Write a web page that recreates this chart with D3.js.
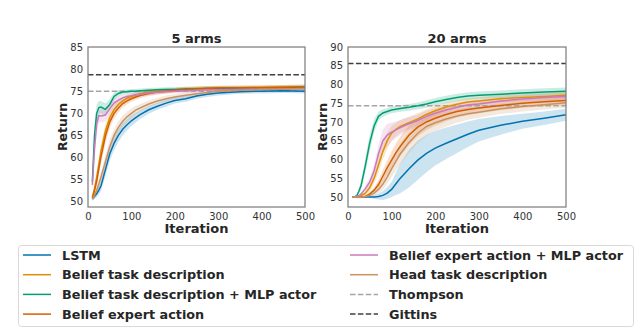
<!DOCTYPE html>
<html>
<head>
<meta charset="utf-8">
<script src="https://cdn.jsdelivr.net/npm/d3@7"></script>
<style>
  body { margin: 0; background: #fff; }
  text { font-family: "DejaVu Sans", sans-serif; }
</style>
</head>
<body>
<svg width="640" height="328"></svg>
<script>
var iters = [10,15,20,25,30,40,50,60,70,80,90,100,110,120,140,160,180,200,225,250,275,300,350,400,450,500];

var seriesNames = ["LSTM", "Belief task description", "Belief task description + MLP actor",
  "Belief expert action", "Belief expert action + MLP actor", "Head task description"];
var seriesColors = ["#0173b2", "#de8f05", "#029e73", "#d55e00", "#cc78bc", "#ca9161"];

// 5 arms (mean)
var lstm5     = [50.6,51.2,51.8,52.6,53.6,57.2,60.8,63.2,65.0,66.4,67.4,68.3,69.0,69.7,70.8,71.6,72.3,72.9,73.3,73.9,74.3,74.6,74.9,75.0,75.1,75.0];
var task5     = [51.0,53.0,55.5,58.5,61.5,66.0,69.0,70.8,72.0,72.8,73.4,73.8,74.1,74.4,74.8,75.0,75.2,75.3,75.5,75.6,75.7,75.8,75.8,75.9,75.9,76.0];
var taskMlp5  = [54.5,65.0,70.0,71.3,71.4,70.9,72.0,73.8,74.5,74.8,74.9,75.0,75.0,75.1,75.2,75.3,75.4,75.4,75.5,75.5,75.6,75.6,75.7,75.7,75.8,75.8];
var expert5   = [50.8,52.5,54.6,57.5,60.2,64.8,68.0,70.0,71.2,72.2,72.8,73.3,73.7,74.0,74.5,74.8,75.0,75.2,75.4,75.5,75.6,75.7,75.8,75.8,75.9,76.0];
var expMlp5   = [53.8,62.0,67.5,69.5,69.4,69.6,71.0,72.3,73.0,73.5,73.8,74.0,74.2,74.3,74.6,74.8,74.9,75.0,75.1,75.2,75.3,75.3,75.4,75.5,75.5,75.6];
var head5     = [50.6,51.5,52.6,54.0,55.6,59.0,62.4,65.0,66.8,68.2,69.2,70.0,70.7,71.2,72.1,72.8,73.3,73.7,74.1,74.4,74.7,75.0,75.2,75.4,75.5,75.6];
// 5 arms (band half-width)
var lstm5Sd    = [0.4,0.6,0.8,1.0,1.2,1.5,1.6,1.6,1.5,1.4,1.3,1.2,1.1,1.0,0.9,0.8,0.8,0.7,0.7,0.6,0.6,0.6,0.5,0.5,0.5,0.5];
var task5Sd    = [0.4,0.8,1.2,1.5,1.6,1.6,1.4,1.2,1.0,0.9,0.8,0.7,0.7,0.6,0.6,0.6,0.5,0.5,0.5,0.5,0.5,0.5,0.5,0.5,0.5,0.5];
var taskMlp5Sd = [1.5,2.5,2.0,1.5,1.4,1.4,1.2,0.9,0.7,0.6,0.5,0.5,0.5,0.5,0.5,0.5,0.5,0.5,0.5,0.5,0.5,0.5,0.5,0.5,0.5,0.5];
var expert5Sd  = [0.4,0.8,1.2,1.5,1.6,1.6,1.4,1.2,1.0,0.9,0.8,0.7,0.7,0.6,0.6,0.6,0.5,0.5,0.5,0.5,0.5,0.5,0.5,0.5,0.5,0.5];
var expMlp5Sd  = [1.0,2.0,1.8,1.5,1.5,1.4,1.2,1.0,0.8,0.7,0.6,0.6,0.5,0.5,0.5,0.5,0.5,0.5,0.5,0.5,0.5,0.5,0.5,0.5,0.5,0.5];
var head5Sd    = [0.4,0.6,0.8,1.0,1.2,1.5,1.6,1.5,1.4,1.3,1.2,1.1,1.0,0.9,0.8,0.7,0.7,0.6,0.6,0.6,0.5,0.5,0.5,0.5,0.5,0.5];

// 20 arms (mean)
var lstm20    = [50.0,50.0,50.0,50.0,50.0,50.0,50.0,50.0,50.1,50.4,51.0,52.0,53.5,55.0,57.5,59.8,61.6,63.0,64.3,65.5,66.7,67.8,69.1,70.2,71.0,71.9];
var task20    = [50.0,50.0,50.0,50.1,50.3,51.0,52.5,55.0,58.5,62.1,65.0,67.0,68.0,68.8,69.8,70.8,72.0,73.0,74.0,74.7,75.3,75.6,76.2,76.5,76.8,77.1];
var taskMlp20 = [50.0,50.0,50.3,51.5,53.0,58.5,64.5,69.0,71.5,72.4,72.8,73.2,73.4,73.6,73.9,74.3,74.8,75.4,76.0,76.5,76.9,77.1,77.4,77.7,78.0,78.2];
var expert20  = [50.0,50.0,50.0,50.0,50.0,50.2,50.8,51.8,53.3,55.5,57.8,59.8,61.8,63.5,66.5,68.6,70.0,71.0,72.0,72.8,73.3,73.7,74.4,75.0,75.4,75.7];
var expMlp20  = [50.0,50.0,50.1,50.3,50.8,52.2,54.0,57.0,61.5,65.0,66.5,67.3,67.9,68.5,69.5,70.4,71.5,72.3,73.2,73.9,74.5,74.8,75.6,76.1,76.5,76.8];
var head20    = [50.0,50.0,50.0,50.0,50.0,50.1,50.4,51.0,52.0,53.4,55.3,57.5,59.5,61.5,64.5,67.0,68.8,69.8,70.8,71.6,72.2,72.6,73.5,74.1,74.6,75.1];
// 20 arms (band half-width)
var lstm20Sd    = [0.1,0.1,0.1,0.1,0.1,0.2,0.3,0.5,0.8,1.2,1.5,2.0,3.0,4.0,5.0,5.2,5.0,4.6,4.2,3.8,3.4,3.0,2.5,2.0,1.8,1.6];
var task20Sd    = [0.0,0.0,0.0,0.1,0.2,0.5,1.0,1.5,2.0,2.2,2.2,2.0,1.8,1.7,1.6,1.5,1.4,1.3,1.2,1.1,1.0,1.0,1.0,1.0,1.0,1.0];
var taskMlp20Sd = [0.1,0.2,0.4,0.8,1.2,2.0,2.2,1.8,1.2,1.0,0.9,0.9,0.9,0.9,0.9,0.9,1.0,1.0,1.0,1.0,1.0,1.0,1.0,1.0,1.0,1.0];
var expert20Sd  = [0.0,0.0,0.0,0.0,0.0,0.2,0.5,0.8,1.2,1.6,2.0,2.3,2.5,2.6,2.6,2.4,2.2,2.0,1.8,1.6,1.5,1.4,1.3,1.2,1.2,1.2];
var expMlp20Sd  = [0.0,0.0,0.1,0.2,0.4,0.8,1.2,1.8,2.5,3.0,3.0,2.5,2.2,2.0,1.8,1.6,1.5,1.4,1.3,1.2,1.2,1.1,1.0,1.0,1.0,1.0];
var head20Sd    = [0.0,0.0,0.0,0.0,0.0,0.1,0.3,0.6,1.0,1.4,1.8,2.2,2.5,2.7,2.8,2.6,2.4,2.2,2.0,1.8,1.6,1.5,1.4,1.3,1.3,1.3];

// baselines
var thompson = [75.0, 74.3];
var gittins  = [78.7, 85.6];

var xTicks = [0,100,200,300,400,500];
var yTicks5 = [50,55,60,65,70,75,80,85];
var yTicks20 = [50,55,60,65,70,75,80,85,90];

var svg = d3.select("svg");
svg.append("rect").attr("width", 640).attr("height", 328).attr("fill", "#fff");

var panels = [
  { title: "5 arms", x0: 88, x1: 305, yDom: [48.8, 85], yTicks: yTicks5,
    means: [lstm5, task5, taskMlp5, expert5, expMlp5, head5],
    sds: [lstm5Sd, task5Sd, taskMlp5Sd, expert5Sd, expMlp5Sd, head5Sd],
    thompson: thompson[0], gittins: gittins[0] },
  { title: "20 arms", x0: 348, x1: 566, yDom: [47.3, 90], yTicks: yTicks20,
    means: [lstm20, task20, taskMlp20, expert20, expMlp20, head20],
    sds: [lstm20Sd, task20Sd, taskMlp20Sd, expert20Sd, expMlp20Sd, head20Sd],
    thompson: thompson[1], gittins: gittins[1] }
];

var plotTop = 47, plotBottom = 207;

panels.forEach(function(p, pi) {
  var x = d3.scaleLinear().domain([0, 500]).range([p.x0, p.x1]);
  var y = d3.scaleLinear().domain(p.yDom).range([plotBottom, plotTop]);
  var clipId = "clip" + pi;
  svg.append("clipPath").attr("id", clipId).append("rect")
    .attr("x", p.x0).attr("y", plotTop).attr("width", p.x1 - p.x0).attr("height", plotBottom - plotTop);

  var g = svg.append("g").attr("clip-path", "url(#" + clipId + ")");

  // bands
  p.means.forEach(function(m, i) {
    var area = d3.area()
      .x(function(d, k) { return x(iters[k]); })
      .y0(function(d, k) { return y(m[k] - p.sds[i][k]); })
      .y1(function(d, k) { return y(m[k] + p.sds[i][k]); });
    g.append("path").datum(m).attr("d", area)
      .attr("fill", seriesColors[i]).attr("fill-opacity", 0.2);
  });

  // baselines
  g.append("line").attr("x1", p.x0).attr("x2", p.x1)
    .attr("y1", y(p.thompson)).attr("y2", y(p.thompson))
    .attr("stroke", "#a5a5a5").attr("stroke-width", 1.5).attr("stroke-dasharray", "5.5,2.4");
  g.append("line").attr("x1", p.x0).attr("x2", p.x1)
    .attr("y1", y(p.gittins)).attr("y2", y(p.gittins))
    .attr("stroke", "#404040").attr("stroke-width", 1.5).attr("stroke-dasharray", "5.5,2.4");

  // mean lines
  p.means.forEach(function(m, i) {
    var line = d3.line()
      .x(function(d, k) { return x(iters[k]); })
      .y(function(d) { return y(d); });
    g.append("path").datum(m).attr("d", line)
      .attr("fill", "none").attr("stroke", seriesColors[i]).attr("stroke-width", 1.5);
  });

  // frame
  svg.append("rect").attr("x", p.x0).attr("y", plotTop)
    .attr("width", p.x1 - p.x0).attr("height", plotBottom - plotTop)
    .attr("fill", "none").attr("stroke", "#7f7f7f").attr("stroke-width", 1.25);

  // axes without tick marks
  var xAxis = svg.append("g").attr("transform", "translate(0," + plotBottom + ")")
    .call(d3.axisBottom(x).tickValues(xTicks).tickSize(0).tickPadding(6));
  var yAxis = svg.append("g").attr("transform", "translate(" + p.x0 + ",0)")
    .call(d3.axisLeft(y).tickValues(p.yTicks).tickSize(0).tickPadding(5));
  [xAxis, yAxis].forEach(function(a) {
    a.select(".domain").remove();
    a.selectAll("text").attr("font-family", "DejaVu Sans").attr("font-size", 10).attr("fill", "#333");
  });

  var cx = (p.x0 + p.x1) / 2;
  svg.append("text").attr("x", cx).attr("y", 43).attr("text-anchor", "middle")
    .attr("font-size", 13).attr("font-weight", "bold").attr("fill", "#262626").text(p.title);
  svg.append("text").attr("x", cx).attr("y", 233).attr("text-anchor", "middle")
    .attr("font-size", 13).attr("font-weight", "bold").attr("fill", "#262626").text("Iteration");
  svg.append("text").attr("transform", "translate(" + (p.x0 - 21) + "," + ((plotTop + plotBottom) / 2) + ") rotate(-90)")
    .attr("text-anchor", "middle").attr("font-size", 12.5).attr("font-weight", "bold")
    .attr("fill", "#262626").text("Return");
});

// legend
var legendItems = seriesNames.map(function(n, i) { return { name: n, color: seriesColors[i], dash: null }; });
legendItems.push({ name: "Thompson", color: "#a5a5a5", dash: "5.5,2.4" });
legendItems.push({ name: "Gittins", color: "#404040", dash: "5.5,2.4" });

svg.append("rect").attr("x", 18.5).attr("y", 245.5).attr("width", 615).attr("height", 81)
  .attr("rx", 3).attr("fill", "#fff").attr("stroke", "#d9d9d9").attr("stroke-width", 1);

var leg = svg.append("g");
legendItems.forEach(function(it, i) {
  var col = Math.floor(i / 4), row = i % 4;
  var lx = col === 0 ? 23 : 350;
  var ly = 255 + row * 19.7;
  leg.append("line").attr("x1", lx).attr("x2", lx + 28).attr("y1", ly).attr("y2", ly)
    .attr("stroke", it.color).attr("stroke-width", 1.5)
    .attr("stroke-dasharray", it.dash);
  leg.append("text").attr("x", lx + 39).attr("y", ly + 4.5).attr("font-size", 12.8)
    .attr("font-weight", "bold").attr("fill", "#262626").text(it.name);
});
</script>
</body>
</html>
